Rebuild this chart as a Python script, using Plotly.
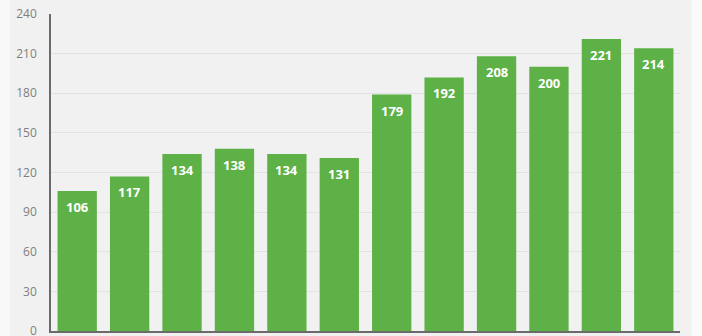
import plotly.graph_objects as go

categories = [f"c{i}" for i in range(1, 13)]
values = [106, 117, 134, 138, 134, 131, 179, 192, 208, 200, 221, 214]
y_ticks = [0, 30, 60, 90, 120, 150, 180, 210, 240]

fig = go.Figure(go.Bar(
    x=categories, y=values,
    marker=dict(color="#5db146", line=dict(width=0)),
    hoverinfo="skip",
))

for c, v in zip(categories, values):
    fig.add_annotation(x=c, y=v, text=f"<b>{v}</b>", showarrow=False,
                       yanchor="top", yshift=-5,
                       font=dict(color="#ffffff", size=13, family="Open Sans"))

fig.update_layout(
    width=702, height=336,
    margin=dict(l=51, r=22, t=14, b=5),
    paper_bgcolor="#f1f1f1", plot_bgcolor="#f1f1f1",
    bargap=0.25,
    showlegend=False,
)
fig.update_xaxes(showticklabels=False, showgrid=False, showline=True,
                 linecolor="#6b6b6b", linewidth=1.5, ticks="", automargin=False)
fig.update_yaxes(range=[0, 240], tickvals=y_ticks, showgrid=True,
                 gridcolor="#e2e2e2", gridwidth=1, showline=True,
                 linecolor="#6b6b6b", linewidth=1.5, zeroline=False,
                 tickfont=dict(color="#808080", size=12, family="Open Sans"),
                 ticks="", ticklabelstandoff=10, ticklabeloverflow="allow",
                 automargin=False)
fig.add_shape(type="rect", xref="paper", yref="paper", x0=1.018, x1=1.05,
              y0=-0.1, y1=1.1, fillcolor="#fafafa", line=dict(width=0), layer="below")
fig.add_shape(type="rect", xref="paper", yref="paper", x0=-0.09, x1=-0.065,
              y0=-0.1, y1=1.1, fillcolor="#f8f8f8", line=dict(width=0), layer="below")

fig.write_html("out.html")
